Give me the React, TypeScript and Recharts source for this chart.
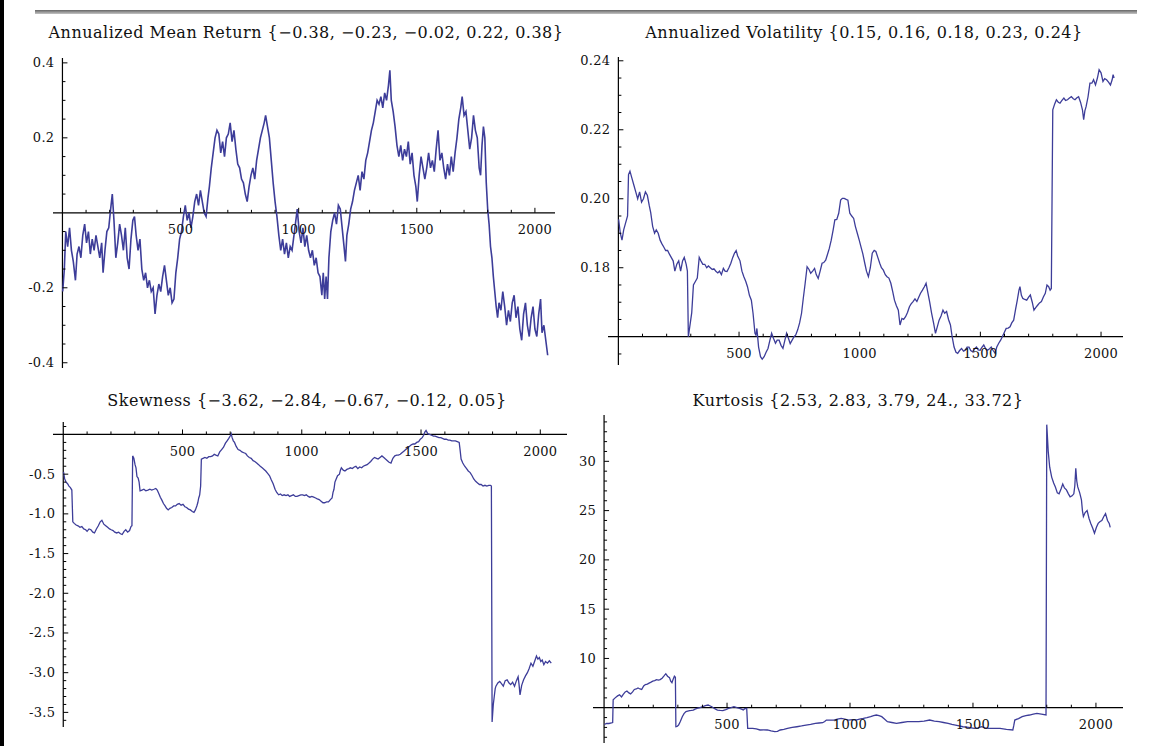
import React from 'react';
import { LineChart, Line, XAxis, YAxis, ReferenceLine } from 'recharts';

type Pt = [number, number];

// ---------- series values (index, value) ----------
const meanReturn: Pt[] = [
  [1,-0.21],[8,-0.15],[14,-0.05],[22,-0.09],[30,-0.04],[38,-0.1],[46,-0.13],[55,-0.18],[62,-0.11],[70,-0.09],
  [78,-0.12],[86,-0.06],[94,-0.03],[102,-0.08],[110,-0.05],[118,-0.11],[126,-0.07],[134,-0.1],[142,-0.06],[150,-0.09],
  [158,-0.12],[166,-0.08],[172,-0.16],[180,-0.1],[188,-0.05],[196,-0.04],[204,0.01],[211,0.05],[218,-0.02],[226,-0.12],
  [234,-0.08],[242,-0.03],[250,-0.06],[258,-0.1],[266,-0.04],[274,-0.12],[282,-0.15],[290,-0.07],[298,-0.02],[305,-0.01],
  [312,-0.06],[320,-0.1],[328,-0.07],[336,-0.15],[344,-0.18],[352,-0.16],[360,-0.2],[368,-0.18],[376,-0.21],[384,-0.2],
  [392,-0.27],[400,-0.22],[408,-0.19],[416,-0.21],[424,-0.17],[432,-0.14],[440,-0.18],[448,-0.22],[456,-0.2],[464,-0.24],
  [472,-0.23],[480,-0.16],[488,-0.12],[496,-0.07],[504,-0.05],[512,-0.01],[520,0.02],[528,-0.02],[536,0.0],[544,-0.04],
  [552,-0.01],[560,0.03],[568,0.05],[576,0.02],[584,0.06],[592,0.03],[600,0.0],[608,-0.01],[616,0.04],[622,0.07],
  [630,0.12],[638,0.16],[646,0.2],[654,0.22],[662,0.21],[670,0.16],[678,0.19],[686,0.15],[694,0.2],[702,0.21],
  [710,0.24],[718,0.19],[726,0.22],[734,0.17],[742,0.13],[750,0.12],[758,0.09],[766,0.08],[774,0.05],[782,0.03],
  [790,0.07],[798,0.1],[806,0.12],[814,0.09],[822,0.14],[830,0.17],[838,0.2],[846,0.22],[854,0.24],[860,0.26],
  [868,0.23],[876,0.2],[884,0.14],[892,0.08],[900,0.03],[908,-0.01],[916,-0.06],[924,-0.1],[932,-0.07],[940,-0.11],
  [948,-0.08],[956,-0.12],[964,-0.09],[972,-0.1],[980,-0.06],[988,-0.02],[994,0.01],[1002,-0.05],[1010,-0.08],[1018,-0.04],
  [1026,-0.09],[1034,-0.06],[1042,-0.1],[1050,-0.12],[1058,-0.1],[1066,-0.14],[1074,-0.12],[1082,-0.16],[1090,-0.17],[1098,-0.22],
  [1104,-0.16],[1110,-0.23],[1116,-0.17],[1122,-0.23],[1128,-0.12],[1136,-0.05],[1144,-0.02],[1152,0.0],[1160,-0.03],[1168,0.02],
  [1176,0.01],[1184,-0.04],[1192,-0.09],[1198,-0.13],[1204,-0.06],[1212,-0.03],[1220,0.01],[1228,0.03],[1236,0.06],[1244,0.08],
  [1252,0.1],[1260,0.06],[1268,0.11],[1276,0.09],[1284,0.14],[1292,0.16],[1300,0.19],[1308,0.22],[1316,0.24],[1324,0.27],
  [1332,0.3],[1340,0.29],[1348,0.31],[1356,0.28],[1364,0.32],[1372,0.3],[1380,0.34],[1386,0.38],[1392,0.3],[1400,0.27],
  [1408,0.23],[1416,0.18],[1424,0.15],[1432,0.18],[1440,0.14],[1448,0.17],[1456,0.15],[1464,0.19],[1472,0.13],[1480,0.16],
  [1488,0.1],[1496,0.07],[1502,0.03],[1510,0.1],[1518,0.15],[1526,0.12],[1534,0.09],[1542,0.12],[1550,0.16],[1558,0.12],
  [1566,0.14],[1574,0.11],[1582,0.17],[1590,0.22],[1598,0.14],[1606,0.16],[1614,0.12],[1622,0.09],[1630,0.13],[1638,0.1],
  [1646,0.15],[1654,0.11],[1662,0.16],[1670,0.2],[1678,0.25],[1686,0.28],[1692,0.31],[1700,0.26],[1708,0.27],[1716,0.22],
  [1724,0.17],[1732,0.2],[1740,0.26],[1748,0.22],[1756,0.2],[1764,0.12],[1770,0.1],[1776,0.18],[1782,0.23],[1788,0.2],
  [1794,0.08],[1800,0.01],[1806,-0.03],[1812,-0.09],[1818,-0.12],[1824,-0.17],[1830,-0.21],[1836,-0.25],[1842,-0.28],[1848,-0.24],
  [1856,-0.26],[1864,-0.21],[1872,-0.25],[1880,-0.3],[1888,-0.26],[1896,-0.29],[1904,-0.24],[1912,-0.22],[1920,-0.28],[1928,-0.25],
  [1936,-0.31],[1944,-0.34],[1952,-0.27],[1960,-0.24],[1968,-0.3],[1976,-0.33],[1984,-0.28],[1992,-0.25],[2000,-0.31],[2008,-0.33],
  [2016,-0.27],[2024,-0.23],[2030,-0.32],[2038,-0.3],[2046,-0.34],[2054,-0.38],
];

const volatility: Pt[] = [
  [1,0.194],[8,0.19],[15,0.188],[22,0.191],[30,0.193],[38,0.195],[42,0.207],[48,0.208],[56,0.206],[64,0.204],
  [72,0.202],[80,0.2],[88,0.202],[96,0.199],[104,0.2],[112,0.202],[120,0.201],[128,0.198],[134,0.196],[142,0.192],
  [150,0.19],[157,0.191],[165,0.19],[173,0.188],[180,0.187],[188,0.186],[196,0.185],[204,0.185],[211,0.184],[219,0.183],
  [227,0.182],[234,0.179],[242,0.181],[250,0.182],[258,0.179],[266,0.182],[273,0.183],[281,0.181],[286,0.179],[290,0.16],
  [296,0.163],[304,0.167],[311,0.175],[319,0.176],[327,0.177],[335,0.183],[342,0.182],[350,0.181],[358,0.181],[366,0.18],
  [373,0.1805],[381,0.18],[389,0.1795],[396,0.1797],[404,0.179],[412,0.1785],[419,0.179],[427,0.178],[435,0.1798],[442,0.179],
  [450,0.1789],[458,0.18],[466,0.1813],[474,0.183],[481,0.1842],[488,0.185],[494,0.1835],[504,0.182],[512,0.179],[520,0.1774],
  [528,0.176],[535,0.1745],[543,0.172],[551,0.1706],[558,0.1668],[566,0.161],[570,0.1605],[574,0.1624],[581,0.157],[589,0.1542],
  [596,0.1535],[604,0.1542],[612,0.1555],[620,0.1566],[628,0.159],[635,0.161],[643,0.1595],[651,0.1581],[658,0.159],[666,0.159],
  [674,0.1575],[682,0.1566],[690,0.159],[697,0.161],[705,0.1595],[712,0.158],[720,0.159],[728,0.16],[735,0.1605],[743,0.162],
  [751,0.164],[759,0.1668],[766,0.171],[774,0.1755],[782,0.1803],[790,0.1795],[797,0.1784],[805,0.179],[813,0.1798],[820,0.178],
  [828,0.1769],[836,0.179],[844,0.1813],[851,0.1815],[859,0.1822],[867,0.184],[874,0.1856],[882,0.188],[890,0.191],[897,0.1939],
  [905,0.194],[913,0.1958],[921,0.1996],[928,0.2001],[936,0.2001],[944,0.1998],[951,0.1996],[959,0.1958],[967,0.195],[975,0.1943],
  [982,0.192],[990,0.19],[998,0.188],[1005,0.1861],[1013,0.184],[1021,0.1813],[1028,0.179],[1036,0.1774],[1044,0.18],[1052,0.1842],
  [1060,0.185],[1067,0.1847],[1075,0.183],[1083,0.1813],[1090,0.18],[1098,0.1793],[1106,0.178],[1113,0.1774],[1121,0.177],[1129,0.1755],
  [1137,0.173],[1144,0.1706],[1152,0.169],[1160,0.1677],[1167,0.1634],[1175,0.1653],[1182,0.165],[1190,0.1658],[1198,0.167],[1206,0.1687],
  [1213,0.1695],[1221,0.1702],[1229,0.171],[1237,0.1702],[1245,0.1715],[1252,0.1726],[1260,0.1735],[1268,0.1745],[1275,0.1755],[1283,0.1726],
  [1290,0.17],[1298,0.1668],[1306,0.164],[1314,0.161],[1322,0.163],[1329,0.1648],[1337,0.166],[1345,0.1677],[1352,0.1668],[1360,0.1673],
  [1368,0.165],[1376,0.1634],[1383,0.16],[1391,0.157],[1399,0.1555],[1406,0.1552],[1414,0.156],[1422,0.1566],[1430,0.1558],[1437,0.1561],
  [1445,0.157],[1453,0.157],[1460,0.156],[1468,0.1556],[1476,0.1565],[1484,0.157],[1491,0.1562],[1499,0.1561],[1507,0.157],[1514,0.1576],
  [1522,0.1565],[1530,0.1561],[1538,0.1565],[1545,0.157],[1553,0.156],[1561,0.1552],[1568,0.157],[1576,0.1581],[1584,0.159],[1591,0.16],
  [1599,0.1612],[1607,0.1624],[1615,0.1625],[1623,0.1629],[1630,0.164],[1638,0.1648],[1646,0.168],[1653,0.1706],[1660,0.1735],[1664,0.1745],
  [1670,0.172],[1676,0.1711],[1684,0.1708],[1692,0.1706],[1700,0.1715],[1707,0.1721],[1715,0.17],[1722,0.1677],[1730,0.1685],[1738,0.1692],
  [1745,0.1698],[1753,0.1702],[1761,0.1715],[1769,0.1726],[1776,0.175],[1783,0.1745],[1789,0.1735],[1794,0.174],[1797,0.2],[1800,0.2258],
  [1808,0.2275],[1815,0.2287],[1823,0.228],[1830,0.2277],[1838,0.2285],[1846,0.2292],[1853,0.2285],[1861,0.2287],[1869,0.2292],[1877,0.2296],
  [1885,0.229],[1892,0.2287],[1900,0.2293],[1907,0.2296],[1915,0.228],[1923,0.2258],[1928,0.2229],[1933,0.2255],[1938,0.2267],[1946,0.2295],
  [1954,0.2335],[1962,0.2335],[1969,0.2345],[1977,0.233],[1985,0.235],[1992,0.2374],[2000,0.2365],[2008,0.234],[2015,0.2348],[2023,0.2345],
  [2031,0.2338],[2039,0.233],[2046,0.2345],[2050,0.236],[2054,0.235],
];

const skewness: Pt[] = [
  [1,-0.47],[6,-0.56],[12,-0.6],[18,-0.62],[24,-0.65],[30,-0.67],[36,-0.7],[40,-1.1],[46,-1.12],[54,-1.14],
  [62,-1.15],[70,-1.17],[78,-1.16],[86,-1.19],[94,-1.2],[100,-1.22],[108,-1.19],[116,-1.2],[124,-1.23],[131,-1.24],
  [139,-1.19],[147,-1.15],[155,-1.1],[162,-1.08],[170,-1.13],[178,-1.15],[186,-1.17],[194,-1.19],[201,-1.2],[209,-1.21],
  [216,-1.23],[224,-1.24],[232,-1.23],[240,-1.25],[247,-1.26],[255,-1.22],[262,-1.2],[270,-1.23],[278,-1.21],[284,-1.16],
  [288,-1.15],[291,-0.27],[296,-0.3],[301,-0.38],[305,-0.42],[309,-0.53],[314,-0.55],[318,-0.6],[322,-0.71],[330,-0.7],
  [338,-0.69],[346,-0.71],[355,-0.7],[363,-0.69],[371,-0.7],[380,-0.69],[388,-0.68],[394,-0.7],[400,-0.74],[407,-0.79],
  [414,-0.83],[420,-0.87],[427,-0.9],[433,-0.93],[440,-0.95],[447,-0.93],[455,-0.92],[463,-0.9],[471,-0.9],[478,-0.88],
  [486,-0.87],[494,-0.89],[502,-0.88],[510,-0.91],[517,-0.92],[525,-0.94],[533,-0.95],[541,-0.97],[548,-0.98],[554,-0.95],
  [560,-0.9],[564,-0.86],[568,-0.8],[572,-0.76],[576,-0.65],[579,-0.31],[586,-0.3],[594,-0.29],[602,-0.3],[610,-0.28],
  [618,-0.28],[626,-0.27],[633,-0.25],[640,-0.26],[648,-0.27],[656,-0.22],[664,-0.19],[672,-0.16],[680,-0.11],[687,-0.08],
  [694,-0.05],[700,-0.02],[704,0.01],[708,-0.04],[713,-0.08],[718,-0.1],[725,-0.15],[733,-0.19],[741,-0.2],[749,-0.22],
  [757,-0.23],[765,-0.24],[772,-0.27],[780,-0.29],[788,-0.3],[796,-0.33],[803,-0.34],[811,-0.36],[819,-0.38],[826,-0.4],
  [834,-0.42],[842,-0.44],[849,-0.46],[857,-0.49],[865,-0.52],[872,-0.57],[880,-0.62],[888,-0.69],[895,-0.73],[903,-0.76],
  [911,-0.75],[918,-0.77],[926,-0.76],[934,-0.77],[942,-0.76],[949,-0.78],[957,-0.77],[965,-0.76],[973,-0.78],[980,-0.78],
  [988,-0.77],[996,-0.76],[1004,-0.76],[1011,-0.77],[1019,-0.76],[1027,-0.78],[1034,-0.79],[1042,-0.78],[1050,-0.79],[1058,-0.8],
  [1065,-0.81],[1073,-0.82],[1081,-0.84],[1089,-0.86],[1096,-0.86],[1104,-0.85],[1112,-0.85],[1120,-0.82],[1127,-0.8],[1131,-0.73],
  [1135,-0.69],[1139,-0.6],[1143,-0.57],[1150,-0.52],[1158,-0.5],[1162,-0.45],[1166,-0.42],[1174,-0.45],[1181,-0.46],[1189,-0.44],
  [1197,-0.43],[1204,-0.42],[1212,-0.43],[1220,-0.41],[1227,-0.4],[1235,-0.43],[1243,-0.41],[1251,-0.42],[1258,-0.4],[1266,-0.39],
  [1274,-0.38],[1282,-0.36],[1289,-0.34],[1297,-0.31],[1305,-0.29],[1313,-0.3],[1320,-0.31],[1328,-0.29],[1336,-0.27],[1344,-0.29],
  [1351,-0.31],[1359,-0.33],[1366,-0.35],[1374,-0.36],[1382,-0.3],[1390,-0.27],[1398,-0.26],[1405,-0.26],[1413,-0.25],[1420,-0.23],
  [1428,-0.21],[1436,-0.19],[1444,-0.17],[1451,-0.15],[1459,-0.13],[1467,-0.12],[1474,-0.12],[1482,-0.1],[1490,-0.09],[1497,-0.06],
  [1505,-0.04],[1511,-0.01],[1516,0.03],[1521,0.05],[1528,0.01],[1536,0.0],[1544,-0.01],[1552,-0.02],[1559,-0.02],[1567,-0.03],
  [1575,-0.04],[1583,-0.04],[1590,-0.05],[1598,-0.06],[1606,-0.06],[1614,-0.07],[1621,-0.07],[1629,-0.08],[1637,-0.08],[1644,-0.08],
  [1652,-0.09],[1660,-0.1],[1664,-0.2],[1668,-0.31],[1675,-0.36],[1683,-0.4],[1691,-0.43],[1698,-0.46],[1706,-0.48],[1714,-0.52],
  [1721,-0.56],[1729,-0.59],[1737,-0.61],[1745,-0.63],[1752,-0.63],[1760,-0.65],[1768,-0.64],[1776,-0.65],[1784,-0.64],[1791,-0.64],
  [1795,-0.65],[1798,-3.62],[1803,-3.4],[1807,-3.3],[1811,-3.2],[1814,-3.17],[1822,-3.13],[1830,-3.11],[1838,-3.14],[1845,-3.17],
  [1853,-3.1],[1861,-3.09],[1869,-3.13],[1876,-3.15],[1884,-3.12],[1892,-3.17],[1900,-3.1],[1907,-3.05],[1911,-3.15],[1915,-3.28],
  [1922,-3.16],[1930,-3.09],[1938,-3.04],[1946,-3.0],[1953,-2.95],[1961,-2.88],[1969,-2.92],[1976,-2.86],[1984,-2.79],[1990,-2.83],
  [1996,-2.81],[2002,-2.86],[2008,-2.84],[2015,-2.9],[2022,-2.86],[2030,-2.88],[2038,-2.85],[2046,-2.88],
];

const kurtosis: Pt[] = [
  [1,3.3],[10,3.4],[20,3.4],[30,3.45],[35,3.5],[37,5.8],[45,6.0],[55,6.2],[63,6.3],[71,6.1],
  [78,6.35],[86,6.6],[93,6.7],[101,6.5],[108,6.4],[116,6.6],[123,6.85],[131,6.9],[138,7.0],[146,6.9],
  [153,6.85],[161,7.2],[168,7.35],[176,7.4],[183,7.5],[191,7.6],[198,7.7],[206,7.75],[213,7.85],[221,7.8],
  [228,7.85],[236,8.0],[243,8.2],[251,8.45],[258,8.2],[266,8.05],[271,7.7],[276,7.55],[281,7.9],[286,8.2],
  [290,8.1],[292,3.07],[297,3.1],[303,3.24],[310,3.6],[318,4.09],[325,4.4],[333,4.6],[340,4.65],[348,4.7],
  [355,4.72],[363,4.76],[370,4.85],[378,4.93],[390,5.0],[401,5.1],[412,5.2],[423,5.27],[430,5.2],[438,5.1],
  [450,4.9],[461,4.76],[472,4.72],[483,4.7],[495,4.8],[506,4.93],[517,5.0],[528,5.1],[540,5.0],[551,4.93],
  [559,4.85],[566,4.76],[572,4.9],[580,4.93],[584,2.9],[594,2.9],[604,2.9],[619,2.85],[634,2.74],[649,2.75],
  [664,2.74],[679,2.65],[694,2.57],[705,2.6],[716,2.74],[731,2.8],[746,2.9],[765,3.0],[784,3.07],[803,3.15],
  [821,3.24],[840,3.3],[859,3.41],[874,3.45],[889,3.48],[897,3.6],[904,3.75],[919,3.75],[934,3.75],[949,3.85],
  [964,3.92],[979,3.85],[994,3.75],[1009,3.8],[1024,3.75],[1039,3.85],[1054,3.92],[1069,4.0],[1084,4.09],[1096,4.2],
  [1107,4.26],[1118,4.2],[1129,4.09],[1140,3.85],[1152,3.58],[1170,3.5],[1189,3.41],[1211,3.5],[1234,3.58],[1256,3.58],
  [1279,3.58],[1301,3.65],[1324,3.75],[1343,3.65],[1362,3.58],[1380,3.5],[1399,3.41],[1414,3.3],[1429,3.24],[1444,3.15],
  [1459,3.07],[1482,3.0],[1505,2.9],[1520,2.95],[1535,3.07],[1550,2.95],[1565,2.9],[1588,2.9],[1610,2.9],[1636,2.8],
  [1662,2.74],[1666,3.2],[1670,3.75],[1685,3.9],[1700,4.09],[1715,4.2],[1730,4.26],[1745,4.35],[1760,4.43],[1778,4.35],
  [1797,4.26],[1800,33.72],[1806,31.0],[1812,29.4],[1820,28.4],[1828,27.8],[1835,27.4],[1843,26.8],[1850,26.7],[1858,27.2],
  [1865,27.7],[1872,27.3],[1880,27.1],[1888,26.7],[1895,26.4],[1903,26.5],[1910,26.7],[1914,27.5],[1918,29.3],[1922,28.0],
  [1926,27.4],[1934,26.8],[1941,26.1],[1945,25.0],[1949,24.4],[1956,24.8],[1964,25.0],[1972,24.2],[1979,23.7],[1987,23.2],
  [1994,22.7],[2002,23.3],[2009,23.7],[2017,23.9],[2024,24.0],[2032,24.4],[2039,24.7],[2047,24.0],[2054,23.7],[2058,23.3],
];

// ---------- titles and ticks ----------
const titleMean = 'Annualized Mean Return {\u22120.38, \u22120.23, \u22120.02, 0.22, 0.38}';
const titleVol = 'Annualized Volatility {0.15, 0.16, 0.18, 0.23, 0.24}';
const titleSkew = 'Skewness {\u22123.62, \u22122.84, \u22120.67, \u22120.12, 0.05}';
const titleKurt = 'Kurtosis {2.53, 2.83, 3.79, 24., 33.72}';

const xTicks = Array.from({ length: 20 }, (_, i) => (i + 1) * 100);
const xTickLabels = [500, 1000, 1500, 2000];

const meanYTicks = Array.from({ length: 17 }, (_, i) => +((i - 8) * 0.05).toFixed(2)).filter((v) => v !== 0);
const meanYLabels = [0.4, 0.2, -0.2, -0.4];
const volYTicks = Array.from({ length: 18 }, (_, i) => +(0.155 + i * 0.005).toFixed(3)).filter((v) => v !== 0.16);
const volYLabels = [0.24, 0.22, 0.2, 0.18];
const skewYTicks = Array.from({ length: 38 }, (_, i) => +(0.1 - i * 0.1).toFixed(1)).filter((v) => v !== 0);
const skewYLabels = [-0.5, -1, -1.5, -2, -2.5, -3, -3.5];
const kurtYTicks = Array.from({ length: 33 }, (_, i) => i + 2).filter((v) => v !== 5);
const kurtYLabels = [10, 15, 20, 25, 30];

const W = 1158;
const H = 746;
const FONT = '"DejaVu Serif", "Liberation Serif", serif';
const LINE = '#3d3d99';
const AXIS_PX = 1; // thickness reserved for the (invisible) recharts axes

interface PanelProps {
  data: Pt[];
  plot: { left: number; top: number; right: number; bottom: number };
  xDomain: [number, number];
  yDomain: [number, number];
  origin: number;
  yTicks: number[];
  yLabels: number[];
  yFmt: (v: number) => string;
  strokeWidth: number;
}

function Panel(p: PanelProps) {
  const { plot, xDomain, yDomain, origin } = p;
  const pw = plot.right - plot.left;
  const ph = plot.bottom - plot.top;
  const X0 = plot.left + ((0 - xDomain[0]) / (xDomain[1] - xDomain[0])) * pw;
  const Y0 = plot.top + ((yDomain[1] - origin) / (yDomain[1] - yDomain[0])) * ph;
  const rows = p.data.map(([x, y]) => ({ x, y }));
  const isLabelY = (v: number) => p.yLabels.some((l) => Math.abs(l - v) < 1e-9);

  const renderXTick = (props: any) => {
    const x = props.x;
    const v = props.payload.value;
    const major = xTickLabels.includes(v);
    return (
      <g>
        <line x1={x} x2={x} y1={Y0} y2={Y0 - (major ? 5 : 3)} stroke="#000" strokeWidth={1} />
        {major && (
          <text x={x} y={Y0 + 21.5} textAnchor="middle" fontFamily={FONT} fontSize={13} fill="#111" letterSpacing={0.3}>
            {String(v)}
          </text>
        )}
      </g>
    );
  };

  const renderYTick = (props: any) => {
    const y = props.y;
    const v = props.payload.value;
    const major = isLabelY(v);
    return (
      <g>
        <line x1={X0} x2={X0 + (major ? 5 : 3)} y1={y} y2={y} stroke="#000" strokeWidth={1} />
        {major && (
          <text x={X0 - 8} y={y + 4.5} textAnchor="end" fontFamily={FONT} fontSize={13} fill="#111" letterSpacing={0.3}>
            {p.yFmt(v)}
          </text>
        )}
      </g>
    );
  };

  return (
    <div style={{ position: 'absolute', left: 0, top: 0 }}>
      <LineChart
        width={W}
        height={H}
        data={rows}
        margin={{
          left: plot.left - AXIS_PX,
          top: plot.top,
          right: W - plot.right,
          bottom: H - plot.bottom - AXIS_PX,
        }}
      >
        <XAxis
          type="number"
          dataKey="x"
          domain={xDomain}
          allowDataOverflow
          ticks={xTicks}
          interval={0}
          height={AXIS_PX}
          axisLine={false}
          tickLine={false}
          tick={renderXTick}
        />
        <YAxis
          type="number"
          domain={yDomain}
          allowDataOverflow
          ticks={p.yTicks}
          interval={0}
          width={AXIS_PX}
          axisLine={false}
          tickLine={false}
          tick={renderYTick}
        />
        <ReferenceLine y={origin} stroke="#000" strokeWidth={1.2} />
        <ReferenceLine x={0} stroke="#000" strokeWidth={1.2} />
        <Line
          type="linear"
          dataKey="y"
          stroke={LINE}
          strokeWidth={p.strokeWidth}
          dot={false}
          isAnimationActive={false}
        />
      </LineChart>
    </div>
  );
}

export default function App() {
  const titleStyle = { fontFamily: FONT, fontSize: 16, fill: '#111', letterSpacing: 0.5 } as const;
  return (
    <div style={{ position: 'absolute', left: 0, top: 0, width: W, height: H, background: '#fff', overflow: 'hidden' }}>
      <div style={{ position: 'absolute', left: 0, top: 0, width: 4, height: H, background: '#000' }} />
      <div
        style={{
          position: 'absolute',
          left: 35,
          top: 10,
          width: 1102,
          height: 4,
          background: 'linear-gradient(#666666, #c4c4c4)',
        }}
      />
      <svg style={{ position: 'absolute', left: 0, top: 0 }} width={W} height={H}>
        <text x={306} y={38} textAnchor="middle" {...titleStyle}>{titleMean}</text>
        <text x={864} y={38} textAnchor="middle" {...titleStyle}>{titleVol}</text>
        <text x={307} y={406} textAnchor="middle" {...titleStyle}>{titleSkew}</text>
        <text x={858} y={406} textAnchor="middle" {...titleStyle}>{titleKurt}</text>
      </svg>
      <Panel
        data={meanReturn}
        plot={{ left: 53, top: 58, right: 555, bottom: 368 }}
        xDomain={[-40, 2085]}
        yDomain={[-0.414, 0.413]}
        origin={0}
        yTicks={meanYTicks}
        yLabels={meanYLabels}
        yFmt={(v) => v.toFixed(1)}
        strokeWidth={1.6}
      />
      <Panel
        data={volatility}
        plot={{ left: 608, top: 57, right: 1123, bottom: 365 }}
        xDomain={[-43, 2091]}
        yDomain={[0.1518, 0.2411]}
        origin={0.16}
        yTicks={volYTicks}
        yLabels={volYLabels}
        yFmt={(v) => v.toFixed(2)}
        strokeWidth={1.3}
      />
      <Panel
        data={skewness}
        plot={{ left: 53, top: 422, right: 567, bottom: 727 }}
        xDomain={[-43, 2112]}
        yDomain={[-3.684, 0.157]}
        origin={0}
        yTicks={skewYTicks}
        yLabels={skewYLabels}
        yFmt={(v) => v.toFixed(1)}
        strokeWidth={1.3}
      />
      <Panel
        data={kurtosis}
        plot={{ left: 593, top: 415, right: 1123, bottom: 743 }}
        xDomain={[-45, 2110]}
        yDomain={[1.42, 34.7]}
        origin={5}
        yTicks={kurtYTicks}
        yLabels={kurtYLabels}
        yFmt={(v) => String(v)}
        strokeWidth={1.3}
      />
    </div>
  );
}
